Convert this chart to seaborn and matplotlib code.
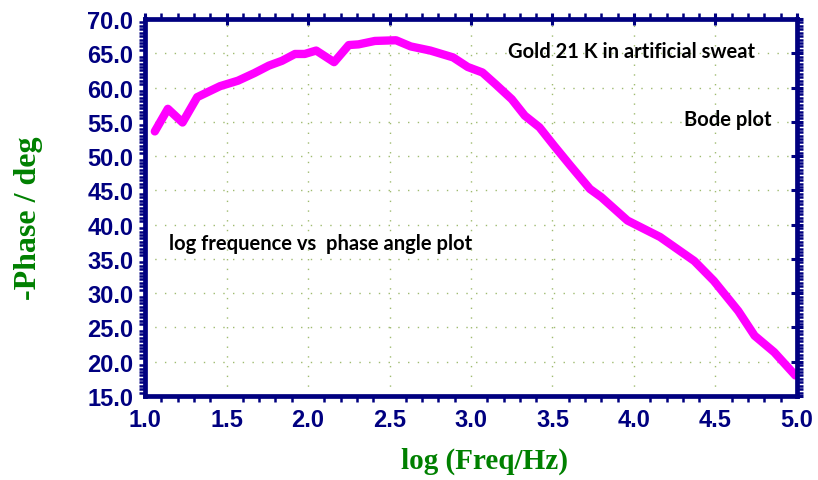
import matplotlib
matplotlib.use("Agg")
import matplotlib.pyplot as plt
import seaborn as sns
import pandas as pd
from matplotlib.ticker import MultipleLocator, FormatStrFormatter

log_freq = [1.06, 1.14, 1.23, 1.32, 1.46, 1.57, 1.67, 1.76, 1.84, 1.92, 1.98, 2.05,
            2.16, 2.25, 2.31, 2.41, 2.54, 2.63, 2.75, 2.89, 2.98, 3.07, 3.15, 3.25,
            3.33, 3.42, 3.51, 3.61, 3.73, 3.80, 3.96, 4.16, 4.37, 4.49, 4.64, 4.74,
            4.86, 4.99]
phase = [53.6, 56.9, 54.9, 58.6, 60.2, 61.0, 62.1, 63.2, 63.9, 64.9, 64.9, 65.4,
         63.7, 66.2, 66.3, 66.8, 66.9, 66.0, 65.4, 64.4, 63.0, 62.2, 60.5, 58.3,
         55.9, 54.2, 51.5, 48.6, 45.2, 44.0, 40.6, 38.2, 34.7, 31.8, 27.4, 23.8,
         21.4, 18.0]
x_ticks = [1.0, 1.5, 2.0, 2.5, 3.0, 3.5, 4.0, 4.5, 5.0]
y_ticks = [15, 20, 25, 30, 35, 40, 45, 50, 55, 60, 65, 70]

df = pd.DataFrame({"logf": log_freq, "phase": phase})

sns.set_style("white")
plt.rcParams['font.family'] = ['Liberation Sans', 'DejaVu Sans']

navy = "#000080"
fig = plt.figure(figsize=(8.18, 4.81), dpi=100)
ax = fig.add_axes([0.1773, 0.1746, 0.797, 0.7838])

sns.lineplot(data=df, x="logf", y="phase", ax=ax, color="#ff00ff", lw=6,
             solid_joinstyle="round", solid_capstyle="round")

ax.set_xlim(1.0, 5.0)
ax.set_ylim(15, 70)
ax.set_xticks(x_ticks)
ax.set_yticks(y_ticks)
ax.xaxis.set_major_formatter(FormatStrFormatter("%.1f"))
ax.yaxis.set_major_formatter(FormatStrFormatter("%.1f"))
ax.xaxis.set_minor_locator(MultipleLocator(0.1))
ax.yaxis.set_minor_locator(MultipleLocator(0.5))

ax.grid(True, which="major", color="#9fbb70", linestyle=(0, (1, 6)), lw=1.0)

for s in ax.spines.values():
    s.set_color(navy)
    s.set_linewidth(3.4)

ax.tick_params(which="major", direction="inout", length=9, width=2.2, color=navy,
               top=True, right=True, labelsize=17, labelcolor=navy, pad=4)
ax.tick_params(which="minor", direction="out", length=4, width=1.8, color=navy,
               top=True, right=True, bottom=True, left=True)
for lab in ax.get_xticklabels() + ax.get_yticklabels():
    lab.set_fontweight("bold")

ax.set_xlabel("log (Freq/Hz)", fontsize=21, fontweight="bold", color="#008000",
              family=["Liberation Serif"])
ax.xaxis.set_label_coords(0.52, -0.135)
ax.set_ylabel("-Phase / deg", fontsize=23, fontweight="bold", color="#008000",
              family=["Liberation Serif"])
ax.yaxis.set_label_coords(-0.156, 0.475)

ax.text(0.557, 0.915, "Gold 21 K in artificial sweat", transform=ax.transAxes,
        fontsize=14.5, fontweight="bold", family=["Lato"], color="black",
        ha="left", va="center")
ax.text(0.827, 0.734, "Bode plot", transform=ax.transAxes,
        fontsize=14.5, fontweight="bold", family=["Lato"], color="black",
        ha="left", va="center")
ax.text(0.037, 0.406, "log frequence vs  phase angle plot", transform=ax.transAxes,
        fontsize=14.5, fontweight="bold", family=["Lato"], color="black",
        ha="left", va="center")

fig.savefig("out.png", dpi=100)
